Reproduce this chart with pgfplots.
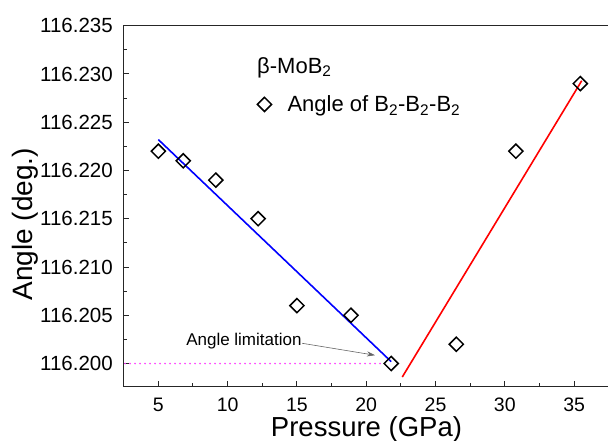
\documentclass[border=0pt]{standalone}
\usepackage{fontspec}
\setmainfont{Liberation Sans}
\usepackage{pgfplots}
\pgfplotsset{compat=1.18}
\usetikzlibrary{arrows.meta}
\definecolor{dotpink}{RGB}{255,60,255}
\begin{document}
\begin{tikzpicture}
\useasboundingbox (0,0) rectangle (608pt,441pt);
\begin{axis}[
  at={(123pt,54.3pt)}, anchor=south west,
  scale only axis, width=487pt, height=361pt,
  xmin=2.45, xmax=37.59, ymin=116.1976, ymax=116.235,
  axis line style={line width=1pt, black!85},
  tick style={line width=1pt, black!85},
  tick align=inside,
  xtick pos=bottom, ytick pos=left,
  major tick length=6pt, minor tick length=3.5pt,
  xtick={5,10,15,20,25,30,35},
  minor xtick={7.5,12.5,17.5,22.5,27.5,32.5},
  ytick={116.200,116.205,116.210,116.215,116.220,116.225,116.230,116.235},
  minor ytick={116.2025,116.2075,116.2125,116.2175,116.2225,116.2275,116.2325},
  /pgf/number format/assume math mode=true,
  yticklabel style={/pgf/number format/fixed, /pgf/number format/precision=3, /pgf/number format/fixed zerofill, font=\fontsize{20.5}{24}\selectfont},
  xticklabel style={font=\fontsize{19.5}{23}\selectfont},
  scaled y ticks=false,
  every y tick label/.append style={inner sep=0pt, xshift=-10pt},
  every x tick label/.append style={inner sep=0pt, yshift=-11pt},
  legend style={at={(axis description cs:0.276,0.782)}, anchor=west, draw=none, fill=none,
    inner sep=0pt, outer sep=0pt, font=\fontsize{22}{26}\selectfont, nodes={inner sep=0pt}, column sep=16pt},
  legend image code/.code={\draw[#1] plot coordinates {(0pt,0pt)};},
  clip=false,
]
\addplot[color=dotpink, line width=1.8pt, line cap=round, dash pattern=on 0pt off 5pt, forget plot] coordinates {(2.6,116.200) (21.0,116.200)};
\addplot[blue, line width=1.6pt, forget plot] coordinates {(5,116.2232) (21.8,116.2002)};
\addplot[red, line width=1.6pt, forget plot] coordinates {(22.6,116.1986) (35.55,116.2293)};
\addplot[only marks, mark=square, mark size=5pt, mark options={rotate=45, line width=1.5pt, black, fill=white}] coordinates {
(5.0,116.222) (6.8,116.221) (9.15,116.219) (12.2,116.215) (15.0,116.206)
(18.9,116.205) (21.8,116.200) (26.5,116.202) (30.8,116.222) (35.45,116.229)
};
\addlegendentry{Angle of B\textsubscript{2}-B\textsubscript{2}-B\textsubscript{2}}
\node[anchor=base west, inner sep=0pt, font=\fontsize{22}{26}\selectfont] at (axis cs:12.12,116.23008) {β-MoB\textsubscript{2}};
\node[anchor=base west, inner sep=0pt, font=\fontsize{17}{20}\selectfont] at (axis cs:7.0,116.2019) {Angle limitation};
\draw[gray!80!black, line width=0.6pt, -{Stealth[length=8pt,width=5pt]}] (axis cs:15.37,116.2021) -- (axis cs:20.63,116.20086);
\node[anchor=base, inner sep=0pt, font=\fontsize{27.5}{32}\selectfont] at (axis description cs:0.5,-0.138) {Pressure (GPa)};
\node[anchor=center, rotate=90, inner sep=0pt, font=\fontsize{28}{32}\selectfont] at (axis description cs:-0.201,0.45) {Angle (deg.)};
\end{axis}
\end{tikzpicture}
\end{document}
